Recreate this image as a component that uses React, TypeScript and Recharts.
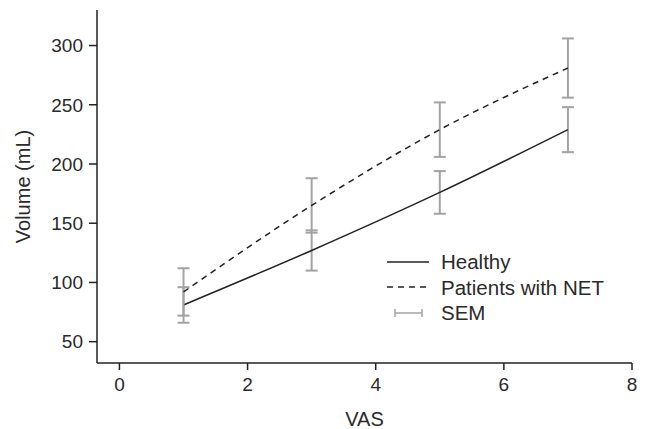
import { ErrorBar, Legend, Line, LineChart, XAxis, YAxis } from "recharts";

// VAS levels and mean volume (mL) per group
const vas = [1, 3, 5, 7];
const healthy = [81, 127, 176, 229];
const healthySem = [15, 17, 18, 19];
const patients = [92, 165, 229, 281];
const patientsSem = [20, 23, 23, 25];

const xTicks = [0, 2, 4, 6, 8];
const yTicks = [50, 100, 150, 200, 250, 300];

const data = vas.map((v, i) => ({
  vas: v,
  healthy: healthy[i],
  healthySem: healthySem[i],
  patients: patients[i],
  patientsSem: patientsSem[i],
}));

const FONT = "'Liberation Sans', Arial, sans-serif";
const INK = "#222";
const TEXT = "#2a2a2a";
const SEM_GREY = "#a3a3a3";

function LegendBox() {
  const rows = [
    { label: "Healthy", kind: "solid" },
    { label: "Patients with NET", kind: "dashed" },
    { label: "SEM", kind: "sem" },
  ];
  return (
    <div style={{ fontFamily: FONT, fontSize: 20.5, color: TEXT, lineHeight: "25.5px", textAlign: "left" }}>
      {rows.map((r) => (
        <div key={r.label} style={{ display: "flex", alignItems: "center" }}>
          <svg width={54} height={12}>
            {r.kind === "sem" ? (
              <g stroke={SEM_GREY} strokeWidth={1.5}>
                <line x1={8} y1={6} x2={35} y2={6} />
                <line x1={8} y1={2} x2={8} y2={10} />
                <line x1={35} y1={2} x2={35} y2={10} />
              </g>
            ) : (
              <line
                x1={0}
                y1={6}
                x2={42}
                y2={6}
                stroke={INK}
                strokeWidth={1.5}
                strokeDasharray={r.kind === "dashed" ? "6 5" : undefined}
              />
            )}
          </svg>
          <span>{r.label}</span>
        </div>
      ))}
    </div>
  );
}

export default function App() {
  return (
    <div style={{ position: "absolute", left: 0, top: 0, background: "#fff" }}>
      <LineChart
        width={646}
        height={429}
        data={data}
        margin={{ top: 10, right: 14, bottom: 0, left: 0 }}
      >
        <XAxis
          dataKey="vas"
          type="number"
          domain={[-0.35, 8]}
          ticks={xTicks}
          allowDataOverflow
          height={66}
          stroke={INK}
          strokeWidth={1.5}
          tickSize={7}
          tick={{ fill: TEXT, fontSize: 19, fontFamily: FONT, dy: 6 }}
          label={{
            value: "VAS",
            position: "insideBottom",
            offset: 3,
            fill: TEXT,
            fontSize: 20,
            fontFamily: FONT,
          }}
        />
        <YAxis
          type="number"
          domain={[32, 330]}
          ticks={yTicks}
          allowDataOverflow
          width={97}
          stroke={INK}
          strokeWidth={1.5}
          tickSize={8}
          tick={{ fill: TEXT, fontSize: 19, fontFamily: FONT, dx: -4 }}
          label={{
            value: "Volume (mL)",
            angle: -90,
            position: "insideLeft",
            offset: 23,
            style: { textAnchor: "middle" },
            fill: TEXT,
            fontSize: 20,
            fontFamily: FONT,
          }}
        />
        <Line
          type="monotone"
          dataKey="healthy"
          stroke={INK}
          strokeWidth={1.5}
          dot={false}
          isAnimationActive={false}
        >
          <ErrorBar dataKey="healthySem" width={6} stroke={SEM_GREY} strokeWidth={2} direction="y" />
        </Line>
        <Line
          type="monotone"
          dataKey="patients"
          stroke={INK}
          strokeWidth={1.5}
          strokeDasharray="6 5"
          dot={false}
          isAnimationActive={false}
        >
          <ErrorBar dataKey="patientsSem" width={6} stroke={SEM_GREY} strokeWidth={2} direction="y" />
        </Line>
        <Legend
          layout="horizontal"
          align="center"
          verticalAlign="middle"
          wrapperStyle={{ left: 387, top: 249, width: 240 }}
          content={() => <LegendBox />}
        />
      </LineChart>
    </div>
  );
}
